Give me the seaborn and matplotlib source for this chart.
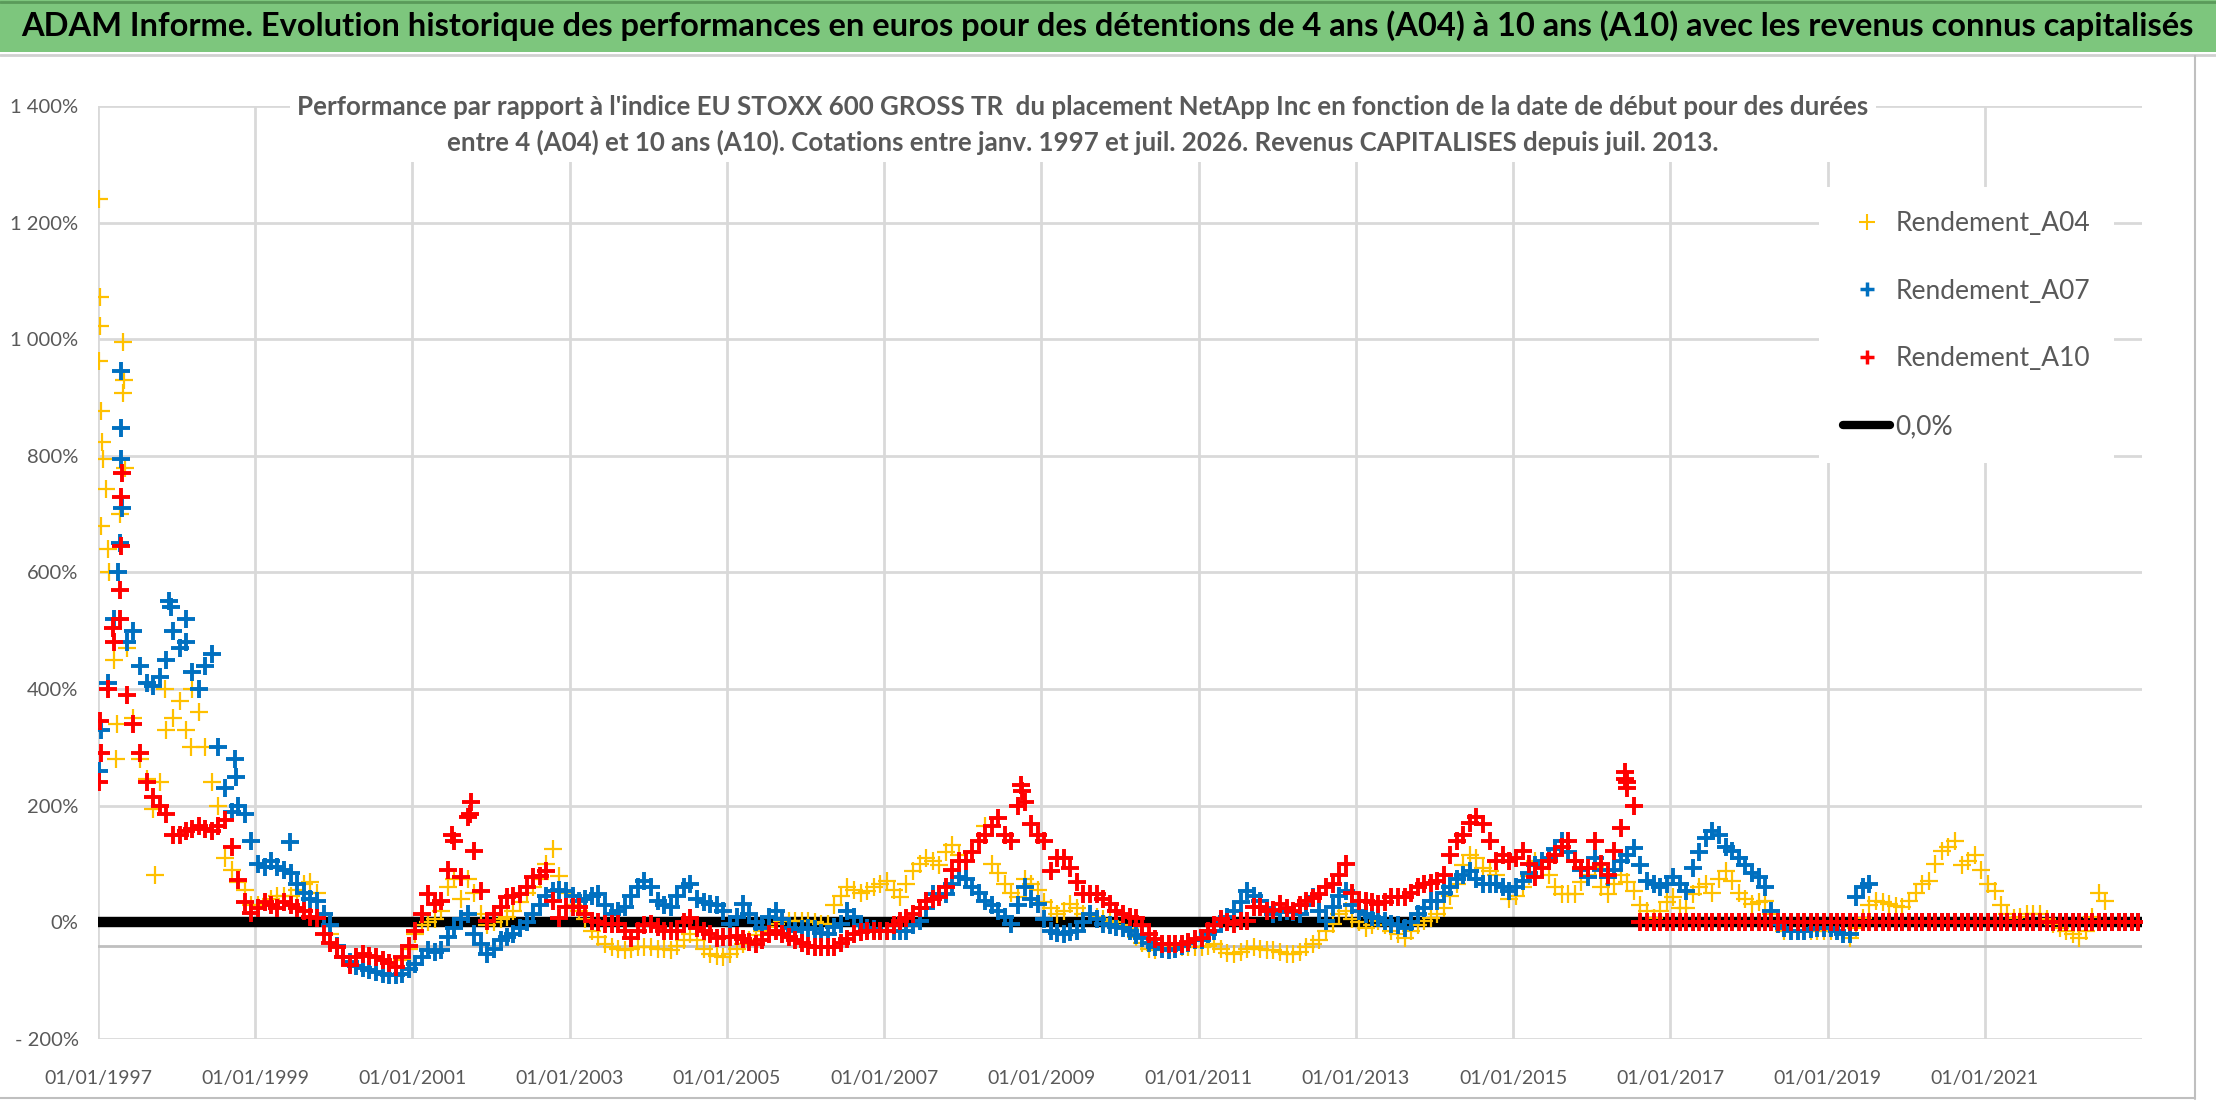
import numpy as np
import pandas as pd
import matplotlib
matplotlib.use('Agg')
import matplotlib.pyplot as plt
from matplotlib.lines import Line2D
from matplotlib.patches import Rectangle
import seaborn as sns

# ---- données (valeurs mensuelles, en %) ----
a04_values = [
    680, 640, 450, 700, 470, 350, 280, 245, 195, 240, 330, 350,   # 1997
    380, 330, 400, 360, 300, 240, 200, 110, 90, 70, 55, 30,       # 1998
    30, 35, 40, 45, 45, 45, 55, 65, 70, 50, 15, -20,              # 1999
    -40, -60, -72, -60, -55, -58, -60, -65, -70, -75, -65, -45,   # 2000
    -20, -5, 0, 5, 20, 60, 75, 40, 75, 50, 15, -5,                # 2001
    0, 5, 10, 20, 35, 50, 60, 75, 100, 125, 80, 50,               # 2002
    30, 20, 5, -15, -25, -37, -42, -45, -48, -45, -43, -42,       # 2003
    -43, -45, -45, -48, -40, -30, -20, -30, -45, -55, -58, -60,   # 2004
    -55, -45, -37, -30, -22, -14, -8, -2, 3, 3, 3, 3,             # 2005
    3, 0, -3, -3, 30, 45, 60, 55, 50, 54, 60, 65,                 # 2006
    71, 55, 43, 65, 88, 100, 111, 105, 99, 120, 133, 115,         # 2007
    105, 120, 139, 165, 100, 85, 65, 50, 43, 75, 65, 55,          # 2008
    35, 25, 14, 20, 31, 25, 14, 14, 10, 5, 3, 0,                  # 2009
    -5, -12, -25, -35, -45, -48, -46, -44, -43, -43, -43, -43,    # 2010
    -43, -40, -37, -45, -52, -54, -50, -45, -43, -45, -48, -48,   # 2011
    -50, -54, -54, -50, -43, -37, -31, -15, -3, 15, 20, 5,        # 2012
    0, -9, -5, 3, -5, -14, -20, -26, -15, -5, 3, 8,               # 2013
    14, 25, 45, 65, 99, 116, 110, 94, 88, 82, 60, 40,             # 2014
    45, 60, 80, 105, 95, 82, 60, 48, 48, 48, 70, 82,              # 2015
    95, 60, 48, 65, 82, 70, 54, 30, 20, 8, 20, 35,                # 2016
    43, 25, 25, 48, 60, 65, 50, 75, 88, 71, 50, 40,               # 2017
    31, 35, 37, 14, 0, -14, -14, -14, -14, -14, -14, -14,         # 2018
    -14, -14, -18, -26, -10, 8, 30, 37, 35, 31, 28, 26,           # 2019
    37, 50, 65, 71, 100, 122, 130, 139, 99, 105, 116, 90,         # 2020
    65, 54, 30, 14, 8, 10, 14, 14, 14, 5, -3, -10,                # 2021
    -14, -20, -26, -14, 10, 50, 37, 0, 0, 0, 0, 0,                # 2022
]

a07_values = [
    330, 410, 520, 650, 480, 500, 440, 410, 405, 420, 450, 500,   # 1997
    470, 480, 430, 400, 440, 460, 300, 230, 190, 200, 185, 140,   # 1998
    100, 95, 105, 95, 90, 85, 65, 50, 40, 37, 15, -5,             # 1999
    -40, -60, -68, -75, -78, -82, -85, -88, -90, -91, -88, -80,   # 2000
    -72, -60, -48, -50, -48, -25, -9, 5, 14, -20, -37, -54,       # 2001
    -45, -31, -25, -20, -10, 0, 14, 30, 45, 54, 55, 54,           # 2002
    45, 37, 40, 45, 48, 30, 14, 20, 26, 45, 60, 71,               # 2003
    60, 37, 30, 26, 45, 60, 65, 40, 35, 31, 30, 20,               # 2004
    -3, 10, 31, 15, 0, -9, 10, 20, 5, -10, -14, -12,              # 2005
    -9, -12, -18, -20, -8, -3, 20, 10, -5, -9, -12, -14,          # 2006
    -14, -14, -14, -14, -5, 3, 25, 48, 48, 48, 65, 77,            # 2007
    75, 60, 50, 37, 30, 20, 10, -3, 30, 60, 40, 31,               # 2008
    5, -14, -18, -20, -16, -14, 0, 14, 5, -3, -5, -8,             # 2009
    -9, -15, -22, -26, -35, -43, -46, -48, -45, -40, -35, -31,    # 2010
    -31, -20, -14, 3, 10, 20, 35, 54, 45, 37, 25, 14,             # 2011
    17, 20, 17, 14, 30, 43, 20, 3, 26, 45, 54, 30,                # 2012
    20, 14, 10, 8, 3, -3, -5, -9, 0, 14, 25, 37,                  # 2013
    37, 50, 60, 75, 82, 88, 75, 65, 65, 65, 60, 54,               # 2014
    60, 71, 85, 99, 105, 111, 125, 139, 120, 105, 90, 77,         # 2015
    111, 90, 77, 90, 105, 115, 128, 99, 71, 65, 60, 65,           # 2016
    77, 65, 54, 94, 120, 145, 156, 150, 130, 122, 110, 99,        # 2017
    85, 77, 60, 20, -3, -10, -14, -14, -14, -12, -9, -9,          # 2018
    -9, -15, -20, -20, 43, 60, 65, 0, 0, 0, 0, 0,                 # 2019
    0, 0, 0, 0, 0, 0, 0, 0, 0, 0, 0, 0,                           # 2020
    0, 0, 0, 0, 0, 0, 0, 0, 0, 0, 0, 0,                           # 2021
    0, 0, 0, 0, 0, 0, 0, 0, 0, 0, 0, 0,                           # 2022
]

a10_values = [
    290, 400, 480, 520, 390, 340, 290, 240, 215, 200, 185, 150,   # 1997
    150, 157, 160, 166, 160, 157, 166, 176, 129, 72, 35, 16,      # 1998
    25, 35, 30, 25, 35, 30, 25, 20, 10, 8, -20, -35,              # 1999
    -43, -60, -74, -60, -54, -57, -60, -65, -70, -77, -60, -40,   # 2000
    -14, 14, 48, 31, 37, 90, 140, 77, 180, 122, 54, 3,            # 2001
    15, 26, 43, 45, 48, 60, 77, 80, 88, 37, 8, 26,                # 2002
    26, 26, 15, 3, 0, -3, -3, -3, -15, -26, -15, -5,              # 2003
    -3, -8, -14, -14, -14, 0, 8, -9, -15, -20, -26, -25,          # 2004
    -25, -23, -28, -33, -37, -30, -20, -14, -20, -25, -31, -35,   # 2005
    -40, -43, -43, -43, -43, -35, -28, -20, -17, -14, -14, -14,   # 2006
    -14, -5, 3, 8, 14, 25, 37, 40, 43, 60, 90, 105,               # 2007
    105, 120, 139, 150, 165, 179, 150, 139, 200, 207, 168, 150,   # 2008
    139, 88, 111, 111, 94, 70, 48, 48, 48, 40, 31, 20,            # 2009
    14, 10, 8, -5, -20, -28, -37, -37, -37, -37, -33, -28,        # 2010
    -26, -14, -5, 6, 0, -3, 3, 3, 26, 26, 20, 22,                 # 2011
    31, 25, 20, 30, 37, 42, 48, 60, 65, 82, 100, 50,              # 2012
    37, 37, 35, 31, 35, 43, 43, 43, 50, 60, 65, 68,               # 2013
    71, 82, 116, 139, 150, 170, 180, 168, 139, 105, 116, 105,     # 2014
    110, 122, 100, 77, 94, 105, 116, 130, 139, 105, 94, 94,       # 2015
    139, 100, 82, 122, 162, 240, 200, 0, 0, 0, 0, 0,              # 2016
    0, 0, 0, 0, 0, 0, 0, 0, 0, 0, 0, 0,                           # 2017
    0, 0, 0, 0, 0, 0, 0, 0, 0, 0, 0, 0,                           # 2018
    0, 0, 0, 0, 0, 0, 0, 0, 0, 0, 0, 0,                           # 2019
    0, 0, 0, 0, 0, 0, 0, 0, 0, 0, 0, 0,                           # 2020
    0, 0, 0, 0, 0, 0, 0, 0, 0, 0, 0, 0,                           # 2021
    0, 0, 0, 0, 0, 0, 0, 0, 0, 0, 0, 0,                           # 2022
]

# points isolés (début 1997 surtout)
a04_extra_dates = ['1997-01-06', '1997-01-09', '1997-01-12', '1997-01-07', '1997-01-14',
                   '1997-01-18', '1997-01-24', '1997-02-06', '1997-02-20', '1997-03-25',
                   '1997-03-30', '1997-04-28', '1997-04-26', '1997-05-02', '1997-05-08',
                   '1997-09-24', '1997-11-10', '1998-03-10']
a04_extra_values = [1240, 1072, 1023, 962, 877, 823, 795, 744, 600, 280,
                    340, 995, 908, 930, 780, 82, 400, 300]
a07_extra_dates = ['1997-01-08', '1997-04-18', '1997-04-20', '1997-04-19', '1997-04-25',
                   '1997-04-05', '1997-11-25', '1997-12-08', '1998-10-01', '1998-10-05',
                   '1999-06-10', '1998-02-15']
a07_extra_values = [260, 795, 847, 946, 711, 600, 551, 540, 280, 250, 138, 520]
a10_extra_dates = ['1997-01-08', '1997-01-12', '1997-04-17', '1997-04-19', '1997-04-22',
                   '1997-04-14', '1997-03-14', '2001-09-30', '2001-09-25', '2001-07-02',
                   '2008-09-28', '2008-10-01', '2016-06-02', '2016-06-06', '2016-06-12']
a10_extra_values = [241, 345, 645, 730, 770, 570, 504, 207, 185, 150, 235, 225, 258, 245, 230]

zero_dates = ['1997-01-01', '2022-12-31']
zero_values = [0.0, 0.0]

y_ticks = [-200, 0, 200, 400, 600, 800, 1000, 1200, 1400]
y_tick_labels = ['- 200%', '0%', '200%', '400%', '600%', '800%', '1 000%', '1 200%', '1 400%']
x_tick_dates = ['1997-01-01', '1999-01-01', '2001-01-01', '2003-01-01', '2005-01-01',
                '2007-01-01', '2009-01-01', '2011-01-01', '2013-01-01', '2015-01-01',
                '2017-01-01', '2019-01-01', '2021-01-01']
x_tick_labels = ['01/01/1997', '01/01/1999', '01/01/2001', '01/01/2003', '01/01/2005',
                 '01/01/2007', '01/01/2009', '01/01/2011', '01/01/2013', '01/01/2015',
                 '01/01/2017', '01/01/2019', '01/01/2021']

title = ("ADAM Informe. Evolution historique des performances en euros pour des détentions "
         "de 4 ans (A04) à 10 ans (A10) avec les revenus connus capitalisés")
subtitle = ("Performance par rapport à l'indice EU STOXX 600 GROSS TR  du placement NetApp Inc "
            "en fonction de la date de début pour des durées\n"
            "entre 4 (A04) et 10 ans (A10). Cotations entre janv. 1997 et juil. 2026. "
            "Revenus CAPITALISES depuis juil. 2013.")

months = pd.date_range('1997-01-01', '2022-12-01', freq='MS') + pd.Timedelta(days=14)


def series_df(values, extra_dates, extra_values):
    d = pd.DataFrame({'date': months, 'value': values})
    e = pd.DataFrame({'date': pd.to_datetime(extra_dates), 'value': extra_values})
    return pd.concat([d, e], ignore_index=True)


df_a04 = series_df(a04_values, a04_extra_dates, a04_extra_values)
df_a07 = series_df(a07_values, a07_extra_dates, a07_extra_values)
df_a10 = series_df(a10_values, a10_extra_dates, a10_extra_values)

sns.set_theme(style='white')
plt.rcParams['font.family'] = ['Lato', 'DejaVu Sans']

c_a04, c_a07, c_a10 = '#ffc000', '#0070c0', '#ff0000'
grey_txt = '#595959'

fig = plt.figure(figsize=(22.16, 11.02), dpi=100)
ax = fig.add_axes([0.0442, 0.0572, 0.9224, 0.8466])

sns.lineplot(x=pd.to_datetime(zero_dates), y=zero_values, color='black', lw=7.5, ax=ax, zorder=2)
sns.scatterplot(data=df_a04, x='date', y='value', marker='+', s=170, linewidth=1.6,
                color=c_a04, ax=ax, zorder=3, legend=False)
sns.scatterplot(data=df_a07, x='date', y='value', marker='+', s=150, linewidth=2.8,
                color=c_a07, ax=ax, zorder=4, legend=False)
sns.scatterplot(data=df_a10, x='date', y='value', marker='+', s=150, linewidth=2.8,
                color=c_a10, ax=ax, zorder=5, legend=False)

ax.axhline(-40, color='#bfbfbf', lw=2, zorder=1)

ax.set_xlim(pd.Timestamp('1997-01-01'), pd.Timestamp('2023-01-01'))
ax.set_ylim(-200, 1400)
ax.set_yticks(y_ticks)
ax.set_yticklabels(y_tick_labels)
ax.set_xticks(pd.to_datetime(x_tick_dates))
ax.set_xticklabels(x_tick_labels)
ax.grid(True, color='#d9d9d9', lw=2)
ax.set_axisbelow(True)
ax.set_xlabel('')
ax.set_ylabel('')
for sp in ax.spines.values():
    sp.set_visible(False)
ax.tick_params(axis='both', length=0, labelsize=14.5, labelcolor=grey_txt)
ax.tick_params(axis='x', labelsize=14, pad=22)
ax.tick_params(axis='y', pad=14)

handles = [
    Line2D([], [], marker='+', ls='', color=c_a04, ms=11, mew=1.5, label='Rendement_A04'),
    Line2D([], [], marker='+', ls='', color=c_a07, ms=10, mew=2.5, label='Rendement_A07'),
    Line2D([], [], marker='+', ls='', color=c_a10, ms=10, mew=2.5, label='Rendement_A10'),
    Line2D([], [], color='black', lw=6, label='0,0%'),
]
leg = ax.legend(handles=handles, loc='upper left', bbox_to_anchor=(1806 / 2216, 1 - 174 / 1102),
                bbox_transform=fig.transFigure, frameon=True, facecolor='white', edgecolor='none',
                framealpha=1, fontsize=19, labelspacing=1.62, handlelength=1.8, handletextpad=0.2,
                borderpad=0.9)
for t in leg.get_texts():
    t.set_color(grey_txt)

# bandeau titre
fig.patches.append(Rectangle((0, 1 - 52 / 1102), 1, 52 / 1102, transform=fig.transFigure,
                             facecolor='#7dc67d', edgecolor='none', zorder=0))
fig.add_artist(Line2D([0, 1], [1 - 1.5 / 1102] * 2, color='#5a9a5a', lw=2))
fig.add_artist(Line2D([0, 1], [1 - 55 / 1102] * 2, color='#d0d0d0', lw=2))
fig.text(0.4995, 1 - 26 / 1102, title, ha='center', va='center', fontsize=23.5,
         fontweight='bold', color='black')

fig.text(0.4887, 1 - 125 / 1102, subtitle, ha='center', va='center', fontsize=18.6,
         fontweight='bold', color=grey_txt, linespacing=1.55, multialignment='center',
         bbox=dict(facecolor='white', edgecolor='none', pad=5), zorder=10)

# cadre du graphique
fig.add_artist(Line2D([0.9905, 0.9905], [0.003, 1 - 56 / 1102], color='#bfbfbf', lw=1.5))
fig.add_artist(Line2D([0, 0.9905], [0.004, 0.004], color='#bfbfbf', lw=1.5))

fig.savefig('out.png', dpi=100)
